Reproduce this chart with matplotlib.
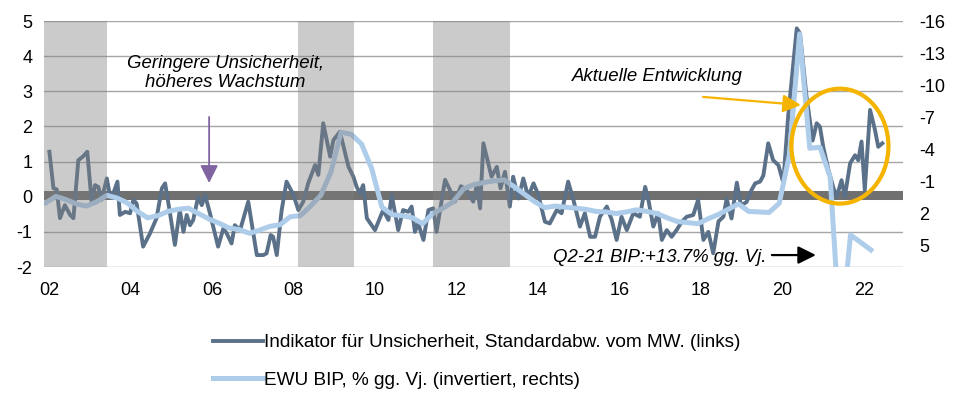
import matplotlib.pyplot as plt
from matplotlib.patches import Ellipse


plt.rcParams.update(
    {
        "font.family": ["Liberation Sans", "DejaVu Sans"],
        "font.size": 13,
        "axes.unicode_minus": False,
        "figure.facecolor": "white",
        "axes.facecolor": "white",
    }
)

# Uncertainty indicator (std. dev. from mean, left axis), turning points by date
unc_t = [
    2002.01, 2002.11, 2002.19, 2002.27, 2002.39, 2002.52, 2002.60, 2002.72, 2002.83, 2002.94,
    2003.05, 2003.13, 2003.21, 2003.29, 2003.42, 2003.50, 2003.58, 2003.68, 2003.74, 2003.87,
    2003.99, 2004.07, 2004.15, 2004.31, 2004.48, 2004.64, 2004.77, 2004.85, 2004.97, 2005.09,
    2005.21, 2005.30, 2005.38, 2005.46, 2005.54, 2005.66, 2005.75, 2005.83, 2005.95, 2006.15,
    2006.28, 2006.36, 2006.48, 2006.56, 2006.69, 2006.89, 2007.10, 2007.26, 2007.34, 2007.44,
    2007.50, 2007.59, 2007.71, 2007.83, 2008.00, 2008.12, 2008.24, 2008.36, 2008.53, 2008.61,
    2008.73, 2008.90, 2008.98, 2009.14, 2009.35, 2009.47, 2009.55, 2009.63, 2009.71, 2009.80,
    2010.00, 2010.20, 2010.33, 2010.41, 2010.57, 2010.69, 2010.82, 2010.90, 2010.98, 2011.06,
    2011.19, 2011.31, 2011.43, 2011.51, 2011.72, 2011.84, 2011.96, 2012.11, 2012.25, 2012.41,
    2012.50, 2012.58, 2012.66, 2012.78, 2012.86, 2012.99, 2013.08, 2013.19, 2013.31, 2013.39,
    2013.52, 2013.64, 2013.76, 2013.89, 2014.01, 2014.17, 2014.29, 2014.46, 2014.58, 2014.74,
    2014.87, 2015.03, 2015.15, 2015.28, 2015.40, 2015.52, 2015.69, 2015.81, 2015.93, 2016.05,
    2016.18, 2016.34, 2016.50, 2016.63, 2016.71, 2016.83, 2016.95, 2017.04, 2017.16, 2017.28,
    2017.40, 2017.53, 2017.65, 2017.81, 2017.93, 2018.06, 2018.18, 2018.30, 2018.43, 2018.55,
    2018.63, 2018.75, 2018.88, 2018.98, 2019.12, 2019.24, 2019.33, 2019.45, 2019.53, 2019.65,
    2019.77, 2019.90, 2020.02, 2020.14, 2020.35, 2020.43, 2020.59, 2020.74, 2020.84, 2020.92,
    2021.00, 2021.12, 2021.25, 2021.33, 2021.45, 2021.53, 2021.66, 2021.78, 2021.86, 2021.94,
    2022.02, 2022.15, 2022.27, 2022.35, 2022.45,
]
unc_v = [
    1.28, 0.24, 0.21, -0.61, -0.24, -0.52, -0.61, 1.04, 1.14, 1.28,
    -0.19, 0.33, 0.28, -0.09, 0.52, 0.00, 0.10, 0.43, -0.52, -0.43,
    -0.47, -0.09, -0.19, -1.42, -1.04, -0.61, 0.24, 0.38, -0.47, -1.37,
    -0.38, -1.00, -0.52, -0.81, -0.66, 0.00, -0.24, 0.05, -0.47, -1.42,
    -0.90, -1.04, -1.33, -0.81, -0.95, -0.14, -1.66, -1.66, -1.61, -1.09,
    -1.14, -1.66, -0.38, 0.43, 0.05, -0.38, -0.14, 0.38, 0.90, 0.62,
    2.09, 1.14, 1.61, 1.85, 0.85, 0.57, 0.28, 0.10, 0.33, -0.61,
    -0.95, -0.38, -0.66, 0.05, -0.95, -0.38, -0.43, -0.28, -1.00, -0.76,
    -1.23, -0.38, -0.33, -1.00, 0.48, 0.19, -0.14, 0.30, 0.19, -0.14,
    0.33, -0.33, 1.52, 0.95, 0.57, 0.85, 0.24, 0.71, -0.28, 0.57,
    -0.05, 0.52, 0.00, 0.38, 0.05, -0.71, -0.76, -0.38, -0.47, 0.43,
    -0.09, -0.85, -0.47, -1.14, -1.14, -0.57, -0.28, -0.66, -1.23, -0.57,
    -0.95, -0.47, -0.57, 0.28, -0.09, -0.85, -0.47, -1.23, -0.95, -1.14,
    -0.95, -0.71, -0.57, -0.52, -0.09, -1.23, -1.00, -1.61, -0.70, -0.57,
    -0.05, -0.62, 0.40, -0.25, -0.15, 0.19, 0.38, 0.43, 0.60, 1.52,
    1.04, 0.90, 0.40, 2.30, 4.79, 4.65, 2.85, 1.60, 2.09, 1.99,
    1.42, 0.80, 0.25, 0.00, 0.47, 0.00, 0.95, 1.18, 1.04, 1.57,
    0.19, 2.47, 1.90, 1.42, 1.52,
]

# Euro area GDP, % y/y, quarterly (right axis, inverted)
gdp_t = [
    2001.92,
    2002.17, 2002.42, 2002.67, 2002.92, 2003.17, 2003.42, 2003.67, 2003.92,
    2004.17, 2004.42, 2004.67, 2004.92, 2005.17, 2005.42, 2005.67, 2005.92,
    2006.17, 2006.42, 2006.67, 2006.92, 2007.17, 2007.42, 2007.67, 2007.92,
    2008.17, 2008.42, 2008.67, 2008.92, 2009.17, 2009.42, 2009.67, 2009.92,
    2010.17, 2010.42, 2010.67, 2010.92, 2011.17, 2011.42, 2011.67, 2011.92,
    2012.17, 2012.42, 2012.67, 2012.92, 2013.17, 2013.42, 2013.67, 2013.92,
    2014.17, 2014.42, 2014.67, 2014.92, 2015.17, 2015.42, 2015.67, 2015.92,
    2016.17, 2016.42, 2016.67, 2016.92, 2017.17, 2017.42, 2017.67, 2017.92,
    2018.17, 2018.42, 2018.67, 2018.92, 2019.17, 2019.42, 2019.67, 2019.92,
    2020.17, 2020.42, 2020.67, 2020.92, 2021.17, 2021.42, 2021.67, 2021.92,
    2022.17,
]
gdp_v = [
    1.0,
    0.4, 0.7, 1.1, 1.3, 0.9, 0.3, 0.55, 1.0,
    1.8, 2.4, 2.2, 1.8, 1.6, 1.5, 2.0, 2.5,
    2.9, 3.35, 3.5, 3.85, 3.55, 3.2, 3.05, 2.3,
    2.2, 1.3, 0.3, -1.9, -5.6, -5.4, -4.5, -2.2,
    1.4, 2.1, 2.2, 2.4, 2.95, 2.0, 1.5, 0.9,
    -0.3, -0.7, -0.9, -1.05, -1.15, -0.5, 0.2, 0.9,
    1.45, 1.3, 1.4, 1.5, 1.6, 1.8, 1.85, 2.0,
    1.85, 1.65, 1.8, 2.0, 2.4, 2.75, 2.85, 2.95,
    2.5, 2.1, 1.6, 1.1, 1.8, 1.85, 1.9, 1.05,
    -3.5, -14.8, -4.1, -4.2, -1.4, 13.7, 4.0, 4.7,
    5.4,
]

# Recession phases (shaded)
rec_start = [2001.877, 2008.11, 2011.42]
rec_end = [2003.42, 2009.48, 2013.31]

x_ticks = [2002, 2004, 2006, 2008, 2010, 2012, 2014, 2016, 2018, 2020, 2022]
x_labels = ["02", "04", "06", "08", "10", "12", "14", "16", "18", "20", "22"]
left_ticks = [-2, -1, 0, 1, 2, 3, 4, 5]
right_ticks = [-16, -13, -10, -7, -4, -1, 2, 5]

DARK = "#5b7189"
LIGHT = "#aecdea"
GOLD = "#f5b400"
PURPLE = "#8064a2"


def arrow(ax_top, ref, start, tip, color, lw):
    ax_top.annotate(
        "",
        xy=tip,
        xytext=start,
        xycoords=ref.transData,
        textcoords=ref.transData,
        arrowprops=dict(
            arrowstyle="-|>,head_length=0.4,head_width=0.2",
            mutation_scale=27,
            color=color,
            lw=lw,
            shrinkA=0,
            shrinkB=0,
        ),
        zorder=8,
    )


fig = plt.figure(figsize=(9.6, 3.94), dpi=100)
ax = fig.add_axes([0.0458, 0.3223, 0.8948, 0.6244])
ax2 = ax.twinx()

ax.set_xlim(2001.877, 2022.957)
ax.set_ylim(-2, 5)
ax2.set_ylim(7, -16)

ax.set_yticks(left_ticks)
ax.set_xticks(x_ticks)
ax.set_xticklabels(x_labels)
ax2.set_yticks(right_ticks)
ax.grid(axis="y", color="#a6a6a6", lw=1.0)
ax.grid(axis="x", visible=False)
ax.set_axisbelow(True)

for a in (ax, ax2):
    for s in a.spines.values():
        s.set_visible(False)
ax.tick_params(axis="y", length=0, pad=8.5, labelsize=13)
ax.tick_params(axis="x", length=0, pad=11, labelsize=13)
ax2.tick_params(axis="y", length=0, pad=11.5, labelsize=13)

# thick zero line
ax.axhline(0.05, color="#707070", lw=6.5, zorder=2)

(l_unc,) = ax.plot(unc_t, unc_v, color=DARK, lw=2.8, solid_joinstyle="round", zorder=3)
(l_gdp,) = ax2.plot(gdp_t, gdp_v, color=LIGHT, lw=3.6, solid_joinstyle="round", zorder=3)

for s0, s1 in zip(rec_start, rec_end):
    ax2.axvspan(s0, s1, color="#7f7f7f", alpha=0.4, lw=0, zorder=5)

ax2.add_patch(
    Ellipse((2021.41, 1.44), 2.38, 3.27, transform=ax.transData,
            fill=False, edgecolor=GOLD, lw=3.0, zorder=7)
)

note_kw = dict(transform=ax.transData, ha="center", va="center",
               style="italic", fontsize=13.4, zorder=8)
ax2.text(2006.32, 3.52, "Geringere Unsicherheit,\nhöheres Wachstum",
         linespacing=1.12, **note_kw)
ax2.text(2016.94, 3.41, "Aktuelle Entwicklung", **note_kw)
ax2.text(2016.98, -1.74, "Q2-21 BIP:+13.7% gg. Vj.", **note_kw)

arrow(ax2, ax, (2005.93, 2.27), (2005.93, 0.39), PURPLE, 1.3)
arrow(ax2, ax, (2018.05, 2.84), (2020.45, 2.61), GOLD, 1.6)
arrow(ax2, ax, (2019.74, -1.66), (2020.82, -1.66), "black", 1.6)

fig.legend(
    [l_unc, l_gdp],
    [
        "Indikator für Unsicherheit, Standardabw. vom MW. (links)",
        "EWU BIP, % gg. Vj. (invertiert, rechts)",
    ],
    loc="upper left",
    bbox_to_anchor=(0.222, 0.152),
    frameon=False,
    borderpad=0,
    borderaxespad=0,
    handlelength=2.6,
    handletextpad=0.1,
    labelspacing=1.05,
    fontsize=13.7,
)

fig.savefig("out.png", dpi=100)
